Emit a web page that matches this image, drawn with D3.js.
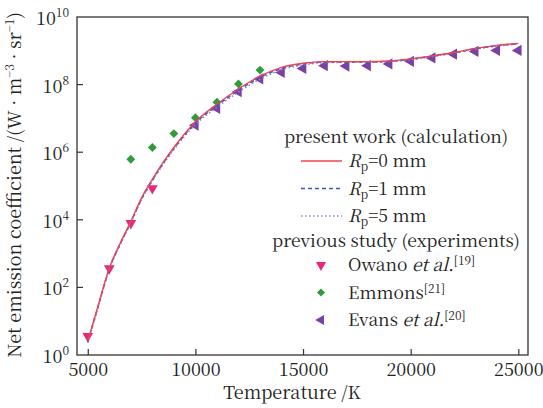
<!DOCTYPE html>
<html>
<head>
<meta charset="utf-8">
<script src="https://cdn.jsdelivr.net/npm/d3@7"></script>
<style>
	body { margin: 0; background: #fff; }
</style>
</head>
<body>
<svg id="chart" width="543" height="408"></svg>
<script>
// temperatures for the calculated curves
const calcT = [5000, 5500, 6000, 6500, 7000, 7500, 8000, 8500, 9000, 10000, 11000, 12000, 13000, 14000,
	15000, 16000, 17000, 18000, 19000, 20000, 21000, 22000, 23000, 24000, 25000];
// log10 of net emission coefficient
const rp0 = [0.40, 1.50, 2.57, 3.30, 3.95, 4.65, 5.20, 5.70, 6.14, 6.90, 7.42, 7.87, 8.25, 8.51,
	8.63, 8.68, 8.68, 8.68, 8.70, 8.76, 8.85, 8.95, 9.07, 9.16, 9.22];
const rp1 = [0.38, 1.48, 2.55, 3.28, 3.93, 4.62, 5.17, 5.67, 6.11, 6.86, 7.38, 7.83, 8.21, 8.48,
	8.61, 8.67, 8.67, 8.67, 8.69, 8.75, 8.84, 8.94, 9.06, 9.15, 9.21];
const rp5 = [0.36, 1.46, 2.53, 3.26, 3.91, 4.60, 5.15, 5.64, 6.08, 6.82, 7.33, 7.78, 8.16, 8.44,
	8.58, 8.65, 8.66, 8.66, 8.68, 8.74, 8.83, 8.93, 9.05, 9.14, 9.20];

const owanoT = [5000, 6000, 7000, 8000];
const owanoV = [0.56, 2.56, 3.90, 4.93];
const emmonsT = [7000, 8000, 9000, 10000, 11000, 12000, 13000];
const emmonsV = [5.79, 6.14, 6.55, 7.02, 7.48, 8.02, 8.43];
const evansT = [10000, 11000, 12000, 13000, 14000, 15000, 16000, 17000, 18000, 19000, 20000,
	21000, 22000, 23000, 24000, 25000];
const evansV = [6.80, 7.30, 7.79, 8.17, 8.36, 8.48, 8.56, 8.55, 8.56, 8.61, 8.69, 8.79, 8.90,
	8.98, 9.01, 9.01];

const xTicks = [5000, 10000, 15000, 20000, 25000];
const yTickExp = [0, 2, 4, 6, 8, 10];

const FONT = '"Noto Serif CJK SC", "Liberation Serif", serif';
const svg = d3.select('#chart').style('font-family', FONT);
const mLeft = 77, mRight = 528, mTop = 17, mBottom = 355;

let x = d3.scaleLinear().domain([4500, 25450]).range([mLeft, mRight]);
let y = d3.scaleLog().domain([1, 1e10]).range([mBottom, mTop]);

function txt(sel, size) {
	return sel.append('text')
		.style('font-family', FONT)
		.style('font-size', size + 'px')
		.attr('fill', '#222');
}

// frame
svg.append('rect')
	.attr('x', mLeft).attr('y', mTop)
	.attr('width', mRight - mLeft).attr('height', mBottom - mTop)
	.attr('fill', 'none').attr('stroke', '#333').attr('stroke-width', 1.3);

// x axis, inward ticks
let xAxis = svg.append('g')
	.attr('transform', `translate(0,${mBottom})`)
	.call(d3.axisBottom(x).tickValues(xTicks).tickSize(-6).tickPadding(8).tickFormat(d3.format('d')));
xAxis.select('.domain').remove();
xAxis.selectAll('line').attr('stroke', '#333').attr('stroke-width', 1.2);
xAxis.selectAll('text').style('font-size', '18px').attr('fill', '#222')
	.style('font-family', FONT);

// y axis, inward ticks and power labels
let yAxis = svg.append('g');
yAxis.selectAll('line')
	.data(yTickExp.filter(e => e > 0 && e < 10))
	.enter()
	.append('line')
	.attr('x1', mLeft).attr('x2', mLeft + 6)
	.attr('y1', e => y(Math.pow(10, e))).attr('y2', e => y(Math.pow(10, e)))
	.attr('stroke', '#333').attr('stroke-width', 1.2);

yTickExp.forEach(e => {
	let t = txt(yAxis, 18)
		.attr('x', 69)
		.attr('y', y(Math.pow(10, e)) + 8)
		.attr('text-anchor', 'end');
	t.append('tspan').text('10');
	t.append('tspan').attr('dy', -8).style('font-size', '12px').text(e);
});

// axis titles
txt(svg, 18)
	.attr('x', 292).attr('y', 399)
	.attr('text-anchor', 'middle')
	.text('Temperature /K');

let yTitle = txt(svg, 18)
	.attr('transform', 'translate(21,185) rotate(-90)')
	.attr('text-anchor', 'middle');
yTitle.append('tspan').text('Net emission coefficient /(W \u00b7 m');
yTitle.append('tspan').attr('dy', -7).style('font-size', '12px').text('\u22123');
yTitle.append('tspan').attr('dy', 7).text(' \u00b7 sr');
yTitle.append('tspan').attr('dy', -7).style('font-size', '12px').text('\u22121');
yTitle.append('tspan').attr('dy', 7).text(')');

// curves
const series = [
	{ vals: rp0, color: '#ee4650', dash: null, width: 1.4 },
	{ vals: rp1, color: '#3d55c0', dash: '4,3', width: 1.5 },
	{ vals: rp5, color: '#8a80e0', dash: '1.5,2.5', width: 1.6 }
];

let line = d3.line()
	.x(d => x(d[0]))
	.y(d => y(Math.pow(10, d[1])))
	.curve(d3.curveMonotoneX);

let plot = svg.append('g');

// markers below lines
function markers(T, V, sym, color, size, rot) {
	plot.selectAll(null)
		.data(d3.zip(T, V))
		.enter()
		.append('path')
		.attr('d', d3.symbol().type(sym).size(size))
		.attr('transform', d => `translate(${x(d[0])},${y(Math.pow(10, d[1]))}) rotate(${rot})`)
		.attr('fill', color);
}
markers(owanoT, owanoV, d3.symbolTriangle, '#e8287a', 50, 180);
markers(emmonsT, emmonsV, d3.symbolDiamond2, '#2f9a3e', 50, 0);
markers(evansT, evansV, d3.symbolTriangle, '#7b40a3', 55, -90);

series.slice().reverse().forEach(s => {
	plot.append('path')
		.datum(d3.zip(calcT, s.vals))
		.attr('d', line)
		.attr('fill', 'none')
		.attr('stroke', s.color)
		.attr('stroke-width', s.width)
		.attr('stroke-dasharray', s.dash);
});

// legend
const LEG = 17.5;
let legend = svg.append('g');
txt(legend, LEG)
	.attr('x', 396).attr('y', 143)
	.attr('text-anchor', 'middle')
	.text('present work (calculation)');

const rpLabels = ['0', '1', '5'];
series.forEach((s, i) => {
	let ly = 161 + i * 27.5;
	legend.append('line')
		.attr('x1', 301).attr('x2', 342)
		.attr('y1', ly).attr('y2', ly)
		.attr('stroke', s.color)
		.attr('stroke-width', s.width)
		.attr('stroke-dasharray', s.dash);
	let t = txt(legend, LEG)
		.attr('x', 348).attr('y', ly + 6);
	t.append('tspan').style('font-style', 'italic').text('R');
	t.append('tspan').attr('dy', 4).style('font-size', '12px').text('p');
	t.append('tspan').attr('dy', -4).text('=' + rpLabels[i] + ' mm');
});

txt(legend, LEG)
	.attr('x', 396).attr('y', 247)
	.attr('text-anchor', 'middle')
	.text('previous study (experiments)');

const expLegend = [
	{ name: 'Owano', etal: true, ref: '[19]', sym: d3.symbolTriangle, color: '#e8287a', rot: 180, size: 45 },
	{ name: 'Emmons', etal: false, ref: '[21]', sym: d3.symbolDiamond2, color: '#2f9a3e', size: 42, rot: 0 },
	{ name: 'Evans', etal: true, ref: '[20]', sym: d3.symbolTriangle, color: '#7b40a3', rot: -90, size: 45 }
];
expLegend.forEach((e, i) => {
	let ly = 265 + i * 27.5;
	legend.append('path')
		.attr('d', d3.symbol().type(e.sym).size(e.size))
		.attr('transform', `translate(321,${ly}) rotate(${e.rot})`)
		.attr('fill', e.color);
	let t = txt(legend, LEG)
		.attr('x', 348).attr('y', ly + 6);
	t.append('tspan').text(e.name + (e.etal ? ' ' : ''));
	if (e.etal) t.append('tspan').style('font-style', 'italic').text('et al.');
	t.append('tspan').attr('dy', -6).style('font-size', '12px').text(e.ref);
});
</script>
</body>
</html>
